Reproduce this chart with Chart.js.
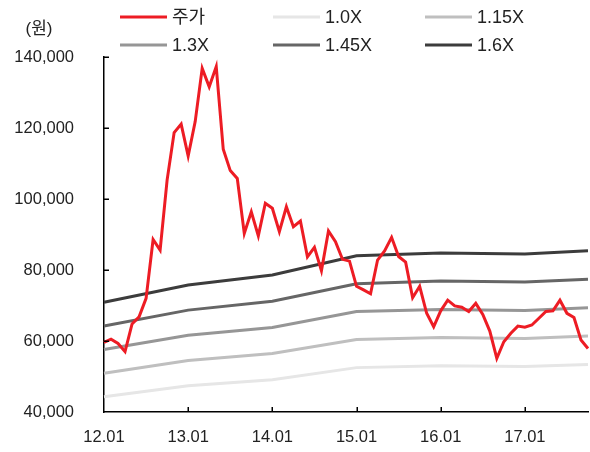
<!DOCTYPE html>
<html>
<head>
<meta charset="utf-8">
<script src="https://cdn.jsdelivr.net/npm/chart.js@4"></script>
<style>
  html, body { margin: 0; padding: 0; background: #fff; }
  #wrap { width: 590px; height: 452px; }
</style>
</head>
<body>
<div id="wrap"><canvas id="chart" width="590" height="452"></canvas></div>
<script>
// Monthly categories, 2012.01 – 2017.10
const months = [
  '12.01','12.02','12.03','12.04','12.05','12.06','12.07','12.08','12.09','12.10','12.11','12.12',
  '13.01','13.02','13.03','13.04','13.05','13.06','13.07','13.08','13.09','13.10','13.11','13.12',
  '14.01','14.02','14.03','14.04','14.05','14.06','14.07','14.08','14.09','14.10','14.11','14.12',
  '15.01','15.02','15.03','15.04','15.05','15.06','15.07','15.08','15.09','15.10','15.11','15.12',
  '16.01','16.02','16.03','16.04','16.05','16.06','16.07','16.08','16.09','16.10','16.11','16.12',
  '17.01','17.02','17.03','17.04','17.05','17.06','17.07','17.08','17.09','17.10'
];

// Labelled x-axis ticks
const yearTicks = ['12.01','13.01','14.01','15.01','16.01','17.01'];

// Share price (won), month-end
const price = [
  59600, 60500, 59300, 57000, 64800, 66800, 72000, 88600, 85600,105400,118700,121100,
 112100,121800,136800,131600,137300,114000,108000,105800, 90300, 96400, 89600, 98800,
  97400, 90800, 97800, 92200, 93800, 83700, 86400, 79800, 91000, 88000, 83000, 82500,
  75400, 74400, 73300, 82800, 85400, 89200, 83800, 82200, 72200, 75400, 67800, 64000,
  68500, 71500, 69900, 69500, 68300, 70600, 67500, 62800, 55100, 59800, 62200, 64200,
  63900, 64500, 66400, 68300, 68500, 71500, 67800, 66600, 60300, 57900
];

// P/B band lines: values at the months where each line bends
const bandMonths = ['12.01','13.01','14.01','15.01','16.01','17.01','17.10'];
const band100 = [44300, 47400, 49100, 52500, 53000, 52800, 53400];
const band115 = [50900, 54500, 56500, 60400, 61000, 60700, 61400];
const band130 = [57600, 61600, 63800, 68300, 68900, 68600, 69400];
const band145 = [64200, 68700, 71200, 76100, 76900, 76600, 77400];
const band160 = [70900, 75800, 78600, 84000, 84800, 84500, 85400];

const FONT = "'Liberation Sans', 'Noto Sans CJK KR', sans-serif";
const TEXT = '#222222';

const bandPoints = vals => bandMonths.map((m, i) => ({ x: m, y: vals[i] }));

function lineSet(label, data, color) {
  return {
    label, data,
    borderColor: color, backgroundColor: color,
    borderWidth: 3, pointRadius: 0, tension: 0,
    spanGaps: true, fill: false
  };
}

// Inward tick marks on both axes plus the unit label
const axisDecor = {
  id: 'axisDecor',
  afterDraw(chart) {
    const { ctx, chartArea: a, scales: { x, y } } = chart;
    ctx.save();
    ctx.strokeStyle = '#000';
    ctx.lineWidth = 1.5;
    ctx.beginPath();
    y.ticks.forEach(t => {
      if (t.value === y.min) return;
      const py = Math.round(y.getPixelForValue(t.value)) + 0.25;
      ctx.moveTo(a.left, py);
      ctx.lineTo(a.left + 5, py);
    });
    x.ticks.forEach(t => {
      if (t.value === 0) return;
      const px = Math.round(x.getPixelForValue(t.value)) + 0.25;
      ctx.moveTo(px, a.bottom);
      ctx.lineTo(px, a.bottom - 5);
    });
    ctx.stroke();

    ctx.fillStyle = TEXT;
    ctx.font = "17px " + FONT;
    ctx.textAlign = 'center';
    ctx.textBaseline = 'middle';
    ctx.fillText('(원)', 39, 29);
    ctx.restore();
  }
};

// Three-column legend in two rows
const gridLegend = {
  id: 'gridLegend',
  afterDraw(chart) {
    const { ctx } = chart;
    const cols = [120, 273, 425];
    const rows = [17, 45];
    ctx.save();
    ctx.font = "18px 'Liberation Sans Narrow', " + FONT;
    ctx.textAlign = 'left';
    ctx.textBaseline = 'middle';
    chart.data.datasets.forEach((ds, i) => {
      const cx = cols[i % 3];
      const cy = rows[Math.floor(i / 3)];
      ctx.strokeStyle = ds.borderColor;
      ctx.lineWidth = 3;
      ctx.beginPath();
      ctx.moveTo(cx, cy);
      ctx.lineTo(cx + 47, cy);
      ctx.stroke();
      ctx.fillStyle = TEXT;
      ctx.fillText(ds.label, cx + 52, cy + 1);
    });
    ctx.restore();
  }
};

new Chart(document.getElementById('chart'), {
  type: 'line',
  data: {
    labels: months,
    datasets: [
      lineSet('주가', price, '#ED1C24'),
      lineSet('1.0X', bandPoints(band100), '#E6E6E6'),
      lineSet('1.15X', bandPoints(band115), '#BFBFBF'),
      lineSet('1.3X', bandPoints(band130), '#969696'),
      lineSet('1.45X', bandPoints(band145), '#666666'),
      lineSet('1.6X', bandPoints(band160), '#3C3C3C')
    ]
  },
  options: {
    responsive: false,
    animation: false,
    devicePixelRatio: 1,
    layout: { padding: { top: 57, right: 2, left: 0, bottom: 0 } },
    plugins: { legend: { display: false }, tooltip: { enabled: false } },
    scales: {
      x: {
        type: 'category',
        offset: false,
        afterBuildTicks: s => { s.ticks = s.ticks.filter(t => yearTicks.includes(months[t.value])); },
        afterFit: s => { s.height = 40; },
        grid: { display: true, drawOnChartArea: false, drawTicks: false },
        border: { display: true, color: '#000', width: 1.5 },
        ticks: {
          autoSkip: false, maxRotation: 0, padding: 16,
          color: TEXT, font: { family: FONT, size: 16.5 },
          callback: function (v) { return months[v]; }
        }
      },
      y: {
        min: 40000, max: 140000,
        afterFit: s => { s.width = 104; },
        grid: { display: true, drawOnChartArea: false, drawTicks: false },
        border: { display: true, color: '#000', width: 1.5 },
        ticks: {
          stepSize: 20000, padding: 30,
          color: TEXT, font: { family: FONT, size: 16.5 },
          callback: v => v.toLocaleString('en-US')
        }
      }
    }
  },
  plugins: [axisDecor, gridLegend]
});
</script>
</body>
</html>
